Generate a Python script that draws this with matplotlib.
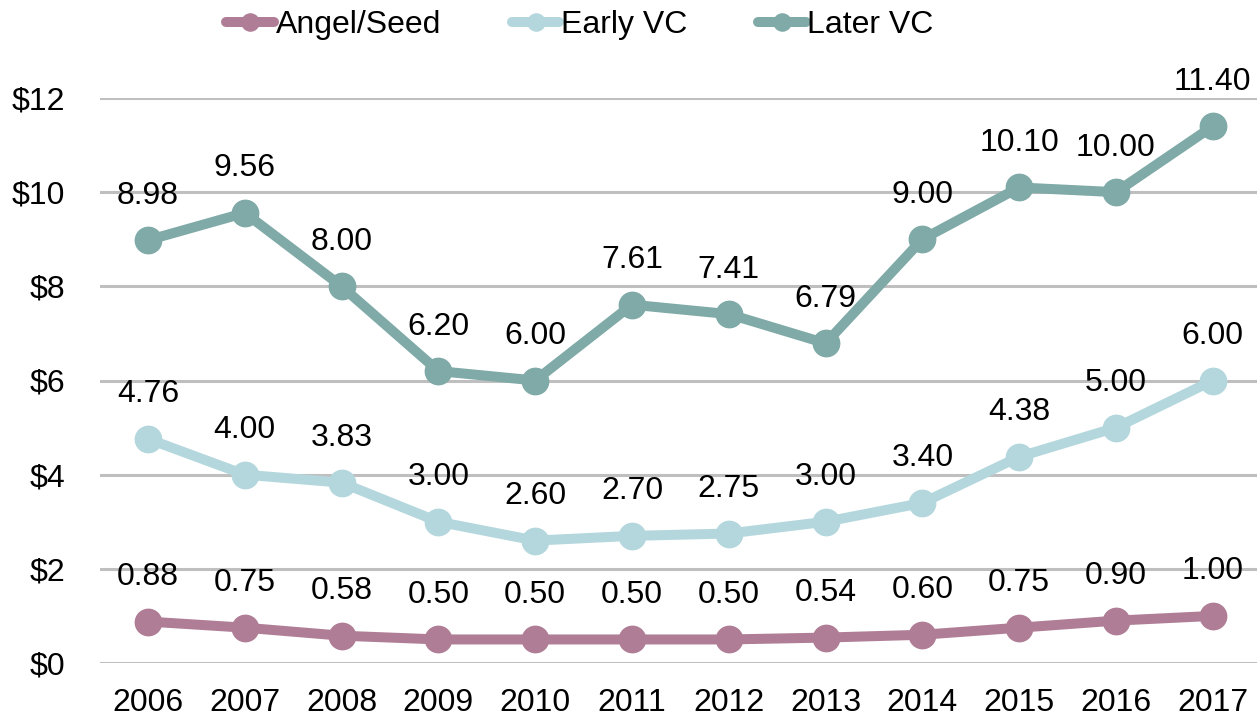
import matplotlib
matplotlib.use("Agg")
import matplotlib.pyplot as plt

years = ["2006", "2007", "2008", "2009", "2010", "2011",
         "2012", "2013", "2014", "2015", "2016", "2017"]
angel_seed = [0.88, 0.75, 0.58, 0.50, 0.50, 0.50, 0.50, 0.54, 0.60, 0.75, 0.90, 1.00]
early_vc = [4.76, 4.00, 3.83, 3.00, 2.60, 2.70, 2.75, 3.00, 3.40, 4.38, 5.00, 6.00]
later_vc = [8.98, 9.56, 8.00, 6.20, 6.00, 7.61, 7.41, 6.79, 9.00, 10.10, 10.00, 11.40]
y_ticks = [0, 2, 4, 6, 8, 10, 12]

series = [
    ("Angel/Seed", angel_seed, "#AF7D95"),
    ("Early VC", early_vc, "#B4D7DD"),
    ("Later VC", later_vc, "#7FAAA7"),
]

plt.rcParams["font.family"] = ["Liberation Sans Narrow", "Liberation Sans", "DejaVu Sans"]

fig = plt.figure(figsize=(12.57, 7.23), dpi=100)
ax = fig.add_axes([99.6 / 1257, 60 / 723, 1161.6 / 1257, 565 / 723])

x = list(range(len(years)))
handles = []
for name, vals, color in series:
    h, = ax.plot(x, vals, color=color, lw=7.2, marker="o", ms=19,
                 solid_capstyle="round", label=name, zorder=3, clip_on=False)
    handles.append(h)
    for xi, v in zip(x, vals):
        ax.annotate(f"{v:.2f}", (xi, v), xytext=(0, 32), textcoords="offset points",
                    ha="center", va="center", fontsize=23, zorder=4,
                    annotation_clip=False)

ax.set_xlim(-0.5, len(years) - 0.5)
ax.set_ylim(0, 12)
ax.set_xticks(x)
ax.set_xticklabels(years)
ax.set_yticks(y_ticks)
ax.set_yticklabels([f"${t}" for t in y_ticks])
ax.tick_params(length=0, labelsize=23)
ax.tick_params(axis="x", pad=18)
ax.tick_params(axis="y", pad=25)
ax.grid(axis="y", color="#BFBFBF", lw=2.2)
ax.set_axisbelow(True)
for s in ax.spines.values():
    s.set_visible(False)

fig.legend(handles=handles, loc="center", bbox_to_anchor=(580 / 1257, 1 - 25 / 723),
           ncol=3, frameon=False, fontsize=23, handlelength=1.5,
           handletextpad=0.05, columnspacing=2.2, markerscale=0.65)

fig.savefig("out.png", dpi=100)
